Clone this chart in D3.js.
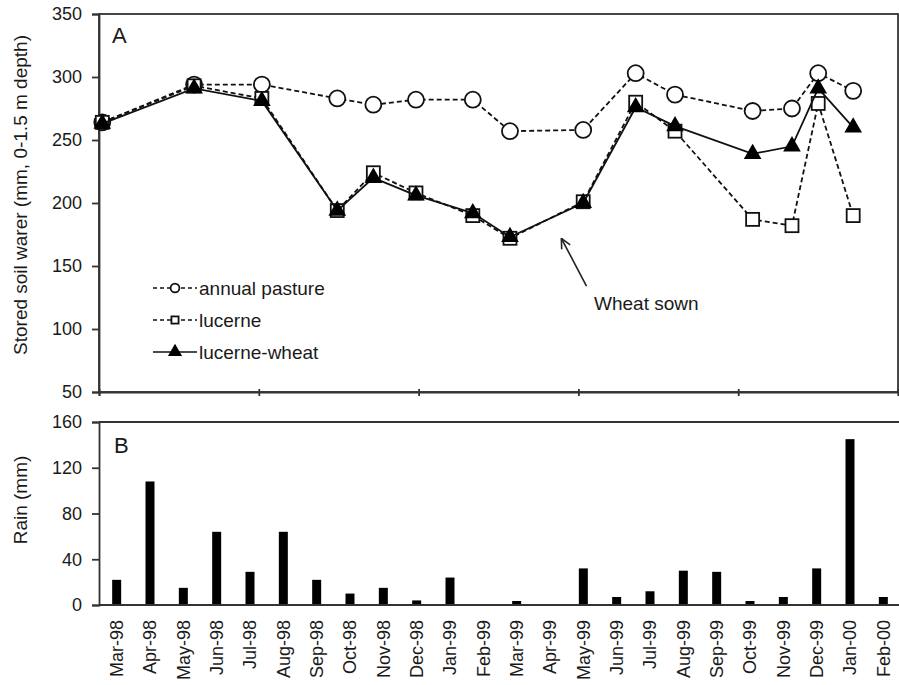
<!DOCTYPE html>
<html>
<head>
<meta charset="utf-8">
<script src="https://cdn.jsdelivr.net/npm/d3@7/dist/d3.min.js"></script>
<style>
  body { margin: 0; background: #fff; }
  svg { display: block; font-family: "Liberation Sans", Arial, sans-serif; }
</style>
</head>
<body>
<div id="chart-area"></div>
<script>
// panel A - stored soil water, sampling dates
const sampleDates = ["1998-03-04", "1998-05-27", "1998-07-28", "1998-10-05", "1998-11-07",
  "1998-12-16", "1999-02-06", "1999-03-12", "1999-05-18", "1999-07-05", "1999-08-10",
  "1999-10-20", "1999-11-25", "1999-12-19", "2000-01-20"]
const annualPasture = [264, 294, 294, 283, 278, 282, 282, 257, 258, 303, 286, 273, 275, 303, 289]
const lucerne = [264, 293, 283, 194, 224, 208, 190, 172, 201, 280, 257, 187, 182, 279, 190]
const lucerneWheat = [263, 291, 281, 194, 220, 206, 192, 173, 200, 276, 261, 239, 245, 291, 260]
const soilTicks = [50, 100, 150, 200, 250, 300, 350]

// panel B - monthly rain
const months = ["Mar-98", "Apr-98", "May-98", "Jun-98", "Jul-98", "Aug-98", "Sep-98", "Oct-98",
  "Nov-98", "Dec-98", "Jan-99", "Feb-99", "Mar-99", "Apr-99", "May-99", "Jun-99", "Jul-99",
  "Aug-99", "Sep-99", "Oct-99", "Nov-99", "Dec-99", "Jan-00", "Feb-00"]
const rain = [22, 108, 15, 64, 29, 64, 22, 10, 15, 4, 24, 0, 3.5, 0, 32, 7, 12, 30, 29, 3.5, 7, 32, 145, 7]
const rainTicks = [0, 40, 80, 120, 160]

const W = 899, H = 685
const LEFT = 99, RIGHT = 898
const A = { TOP: 14, BOTTOM: 392 }
const B = { TOP: 422, BOTTOM: 605 }
const INK = "#1a1a1a"

const parse = d3.timeParse("%Y-%m-%d")

const svg = d3.select("#chart-area").append("svg")
  .attr("width", W)
  .attr("height", H)

svg.append("rect").attr("width", W).attr("height", H).attr("fill", "#fff")

// ---------- panel A ----------
const x = d3.scaleTime()
  .domain([parse("1998-03-01"), parse("2000-03-01")])
  .range([LEFT, RIGHT])

const y = d3.scaleLinear()
  .domain([50, 350])
  .range([A.BOTTOM, A.TOP])

// frame
svg.append("rect")
  .attr("x", LEFT).attr("y", A.TOP)
  .attr("width", RIGHT - LEFT).attr("height", A.BOTTOM - A.TOP)
  .attr("fill", "none").attr("stroke", "#333").attr("stroke-width", 1.8)

const yAxisA = svg.append("g")
  .attr("transform", `translate(${LEFT},0)`)
  .call(d3.axisLeft(y).tickValues(soilTicks).tickSize(7).tickPadding(10))
yAxisA.selectAll("text").attr("font-size", 18).attr("fill", INK).attr("font-family", "Liberation Sans, Arial, sans-serif")
yAxisA.selectAll("line, path").attr("stroke", "#333").attr("stroke-width", 1.8)

const span = x.domain()[1] - x.domain()[0]
const dateTicks = d3.range(6).map(i => new Date(+x.domain()[0] + span * i / 5))
const xAxisA = svg.append("g")
  .attr("transform", `translate(0,${A.BOTTOM})`)
  .call(d3.axisBottom(x).tickValues(dateTicks).tickSize(4).tickFormat(""))
xAxisA.selectAll("line, path").attr("stroke", "#333").attr("stroke-width", 1.8)
xAxisA.selectAll("line").attr("y1", -3)

svg.append("text")
  .attr("transform", `translate(20,195) rotate(-90)`)
  .attr("text-anchor", "middle")
  .attr("dominant-baseline", "central")
  .attr("font-size", 19).attr("fill", INK)
  .text("Stored soil warer (mm, 0-1.5 m depth)")

svg.append("text")
  .attr("x", 112).attr("y", 43)
  .attr("font-size", 22).attr("fill", INK)
  .text("A")

const series = [
  { name: "annual pasture", values: annualPasture, dash: "5,3", shape: "circle" },
  { name: "lucerne", values: lucerne, dash: "5,3", shape: "square" },
  { name: "lucerne-wheat", values: lucerneWheat, dash: null, shape: "triangle" }
]

const line = d3.line()
  .x(d => x(parse(d.date)))
  .y(d => y(d.value))

function drawMarker(g, shape, scale) {
  if (shape === "circle") {
    g.append("circle").attr("r", 8 * scale)
      .attr("fill", "#fff").attr("stroke", "#111").attr("stroke-width", 1.8)
  } else if (shape === "square") {
    g.append("rect")
      .attr("x", -6.5 * scale).attr("y", -6.5 * scale)
      .attr("width", 13 * scale).attr("height", 13 * scale)
      .attr("fill", "#fff").attr("stroke", "#111").attr("stroke-width", 1.8)
  } else {
    g.append("path")
      .attr("d", d3.symbol(d3.symbolTriangle, 135 * scale * scale)())
      .attr("fill", "#000")
  }
}

series.forEach(s => {
  const pts = s.values.map((v, i) => ({ date: sampleDates[i], value: v }))
  svg.append("path")
    .datum(pts)
    .attr("d", line)
    .attr("fill", "none")
    .attr("stroke", "#111")
    .attr("stroke-width", 1.8)
    .attr("stroke-dasharray", s.dash)
  pts.forEach(p => {
    const g = svg.append("g")
      .attr("transform", `translate(${x(parse(p.date))},${y(p.value)})`)
    drawMarker(g, s.shape, 1)
  })
})

// legend
const legend = svg.append("g")
series.forEach((s, i) => {
  const ly = 288 + i * 32
  legend.append("line")
    .attr("x1", 153).attr("x2", 197)
    .attr("y1", ly).attr("y2", ly)
    .attr("stroke", "#111").attr("stroke-width", 1.5)
    .attr("stroke-dasharray", s.dash ? "4,3" : null)
  const g = legend.append("g").attr("transform", `translate(175,${ly})`)
  drawMarker(g, s.shape, s.shape === "triangle" ? 0.8 : 0.55)
  legend.append("text")
    .attr("x", 199).attr("y", ly)
    .attr("dy", "0.35em")
    .attr("font-size", 19).attr("fill", INK)
    .text(s.name)
})

// annotation
const tip = [x(parse("1999-04-28")), y(172)]
const tail = [x(parse("1999-05-21")), y(134)]
const ang = Math.atan2(tail[1] - tip[1], tail[0] - tip[0])
svg.append("line")
  .attr("x1", tail[0]).attr("y1", tail[1])
  .attr("x2", tip[0]).attr("y2", tip[1])
  .attr("stroke", "#222").attr("stroke-width", 1.6)
;[-0.45, 0.45].forEach(da => {
  svg.append("line")
    .attr("x1", tip[0]).attr("y1", tip[1])
    .attr("x2", tip[0] + 11 * Math.cos(ang + da))
    .attr("y2", tip[1] + 11 * Math.sin(ang + da))
    .attr("stroke", "#222").attr("stroke-width", 1.6)
})
svg.append("text")
  .attr("x", 594).attr("y", 310)
  .attr("font-size", 19).attr("fill", INK)
  .text("Wheat sown")

// ---------- panel B ----------
const xb = d3.scaleBand()
  .domain(months)
  .range([100, 900])

const yb = d3.scaleLinear()
  .domain([0, 160])
  .range([B.BOTTOM, B.TOP])

svg.append("line")
  .attr("x1", LEFT).attr("x2", W)
  .attr("y1", B.TOP).attr("y2", B.TOP)
  .attr("stroke", "#333").attr("stroke-width", 1.8)

const yAxisB = svg.append("g")
  .attr("transform", `translate(${LEFT},0)`)
  .call(d3.axisLeft(yb).tickValues(rainTicks).tickSize(7).tickPadding(10))
yAxisB.selectAll("text").attr("font-size", 18).attr("fill", INK).attr("font-family", "Liberation Sans, Arial, sans-serif")
yAxisB.selectAll("line, path").attr("stroke", "#333").attr("stroke-width", 1.8)

svg.selectAll(".bar")
  .data(rain)
  .enter()
  .append("rect")
  .attr("class", "bar")
  .attr("x", (d, i) => xb(months[i]) + xb.bandwidth() / 2 - 4.5)
  .attr("width", 9)
  .attr("y", d => yb(d))
  .attr("height", d => yb(0) - yb(d))
  .attr("fill", "#000")

const xAxisB = svg.append("g")
  .attr("transform", `translate(0,${B.BOTTOM})`)
  .call(d3.axisBottom(xb).tickSize(0).tickPadding(0))
xAxisB.select(".domain").attr("d", `M${LEFT},0H${W}`).attr("stroke", "#333").attr("stroke-width", 1.8)
xAxisB.selectAll("text")
  .attr("font-size", 18).attr("fill", INK)
  .attr("font-family", "Liberation Sans, Arial, sans-serif")
  .attr("text-anchor", "end")
  .attr("transform", "rotate(-90)")
  .attr("x", -15).attr("y", 0)
  .attr("dy", "0.35em")

svg.append("text")
  .attr("transform", `translate(20,500) rotate(-90)`)
  .attr("text-anchor", "middle")
  .attr("dominant-baseline", "central")
  .attr("font-size", 19).attr("fill", INK)
  .text("Rain (mm)")

svg.append("text")
  .attr("x", 114).attr("y", 453)
  .attr("font-size", 22).attr("fill", INK)
  .text("B")
</script>
</body>
</html>
